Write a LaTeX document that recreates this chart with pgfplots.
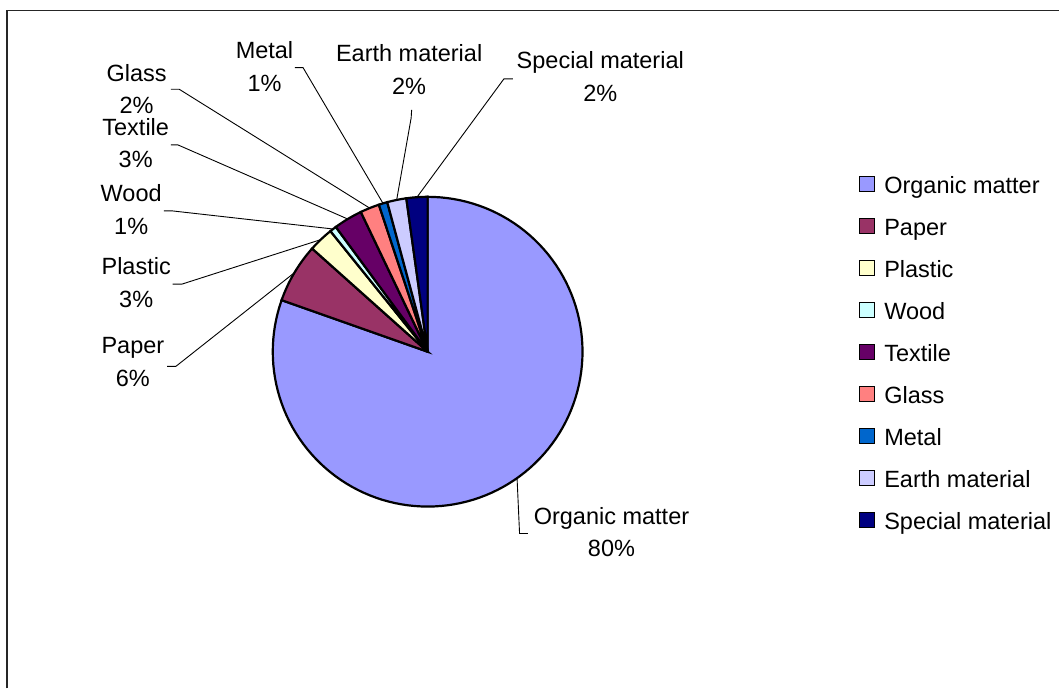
\documentclass[border=0pt]{standalone}
\usepackage{fontspec}
\setmainfont{Liberation Sans}
\usepackage{pgfplots}
\pgfplotsset{compat=1.18}
\definecolor{cOrganic}{HTML}{9999FF}
\definecolor{cPaper}{HTML}{993366}
\definecolor{cPlastic}{HTML}{FFFFCC}
\definecolor{cWood}{HTML}{CCFFFF}
\definecolor{cTextile}{HTML}{660066}
\definecolor{cGlass}{HTML}{FF8080}
\definecolor{cMetal}{HTML}{0066CC}
\definecolor{cEarth}{HTML}{CCCCFF}
\definecolor{cSpecial}{HTML}{000080}
\newcommand\cum{0}
% value (percent), colour, legend name
\newcommand\pieslice[3]{%
  \pgfmathsetmacro\angA{90-3.6*(\cum+#1)}%
  \pgfmathsetmacro\angB{90-3.6*\cum}%
  \pgfmathsetmacro\newcum{\cum+#1}%
  \xdef\cum{\newcum}%
  \edef\doplot{\noexpand\addplot[draw=black, line width=2.2bp, fill=#2, domain=\angA:\angB, samples=120, variable=\noexpand\t] ({428+155*cos(\noexpand\t)},{337+155*sin(\noexpand\t)}) -- (axis cs:428,337) -- cycle;}%
  \doplot
  \addlegendentry{#3}%
}
\begin{document}
\begin{tikzpicture}
\begin{axis}[
  scale only axis, width=1060bp, height=689bp,
  xmin=0, xmax=1060, ymin=0, ymax=689,
  hide axis, clip=false,
  legend cell align=left,
  legend image code/.code={\draw[#1, draw=black, line width=1.6bp] (0bp,-4bp) rectangle (15bp,11bp);},
  legend style={draw=none, fill=none, at={(0.8106,0.7449)}, anchor=north west,
    inner sep=0pt, row sep=19.2bp, font=\fontsize{23.6}{28}\selectfont,
    nodes={inner sep=0pt, text height=17bp, text depth=5bp},
    /tikz/every odd column/.append style={column sep=9bp}},
]
\path (axis cs:0,0) rectangle (axis cs:1060,689);
\pieslice{80.4}{cOrganic}{Organic matter}
\pieslice{6.2}{cPaper}{Paper}
\pieslice{2.6}{cPlastic}{Plastic}
\pieslice{0.7}{cWood}{Wood}
\pieslice{3.0}{cTextile}{Textile}
\pieslice{2.0}{cGlass}{Glass}
\pieslice{0.9}{cMetal}{Metal}
\pieslice{2.0}{cEarth}{Earth material}
\pieslice{2.2}{cSpecial}{Special material}
% border
\draw[line width=1.8bp, black!85] (axis cs:7,0) -- (axis cs:7,678.5) -- (axis cs:1060,678.5);
% leader lines
\begin{scope}[line width=0.9bp, black]
\draw (axis cs:517.5,210.4) -- (axis cs:520,155) -- (axis cs:528.3,155);
\draw (axis cs:167.3,322.3) -- (axis cs:176,322.3) -- (axis cs:294.6,416);
\draw (axis cs:172.7,404.7) -- (axis cs:182.3,404.7) -- (axis cs:321.2,449.2);
\draw (axis cs:164,478) -- (axis cs:171.7,478) -- (axis cs:333.4,459.8);
\draw (axis cs:171,544) -- (axis cs:178,544) -- (axis cs:348,469.8);
\draw (axis cs:171,599.7) -- (axis cs:179.3,599.7) -- (axis cs:370,480.7);
\draw (axis cs:295,621.3) -- (axis cs:303.3,621.3) -- (axis cs:383.3,485.5);
\draw (axis cs:412,579) -- (axis cs:411.5,571) -- (axis cs:397,488.9);
\draw (axis cs:513.3,610) -- (axis cs:504.3,610) -- (axis cs:417.3,491.6);
\end{scope}
% labels
\begin{scope}[every node/.style={align=center, inner sep=0pt, font=\fontsize{23.6}{33}\selectfont}]
\node at (axis cs:612,156.5) {Organic matter\\80\%};
\node at (axis cs:133,326.5) {Paper\\6\%};
\node at (axis cs:136.3,406) {Plastic\\3\%};
\node at (axis cs:131.3,479.2) {Wood\\1\%};
\node at (axis cs:135.8,545.7) {Textile\\3\%};
\node at (axis cs:136.7,599.8) {Glass\\2\%};
\node at (axis cs:264.7,622.3) {Metal\\1\%};
\node at (axis cs:409.5,619) {Earth material\\2\%};
\node at (axis cs:600.8,612.3) {Special material\\2\%};
\end{scope}
\end{axis}
\end{tikzpicture}
\end{document}
